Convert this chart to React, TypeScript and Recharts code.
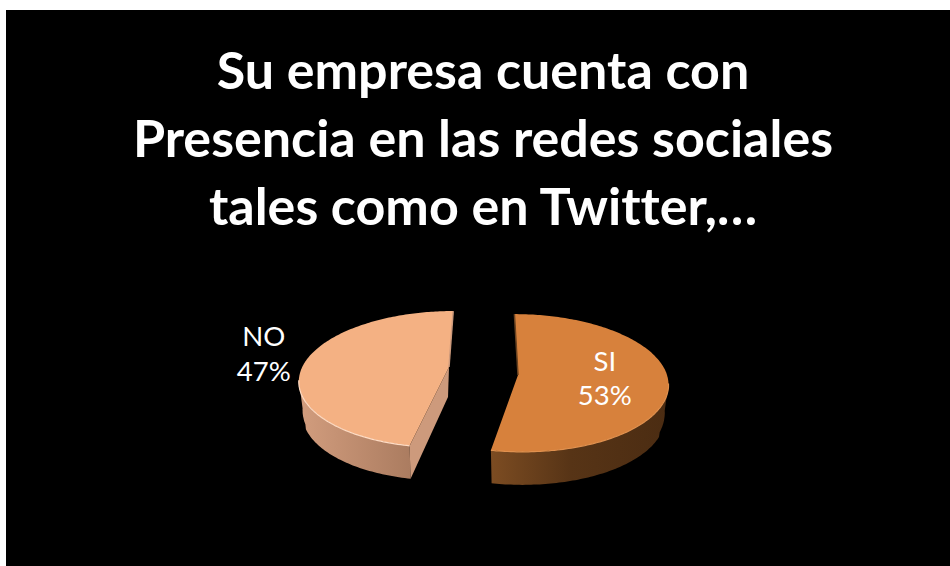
import { PieChart, Pie, Cell } from 'recharts';

const sliceNames = ['SI', 'NO'];
const sliceValues = [53, 47];
const titleLines = [
  'Su empresa cuenta con',
  'Presencia en las redes sociales',
  'tales como en Twitter,…',
];

const CHART_W = 944;
const CHART_H = 556;

// look of each slice: top colour, side wall, and how the fake 3D is bent
const SLICE_STYLE: Record<string, any> = {
  SI: {
    fill: '#d7813c',
    rim: '#e0914f',
    wall: 'wallSi',
    cutWall: '#6b4320',
    dx: 34,
    dy: 4,
    scale: 1,
    squash: 0.456,
    persp: 0.116,
    shear: -4,
    labelR: 0.58,
    labelDy: 0,
  },
  NO: {
    fill: '#f4b183',
    rim: '#ffdcc4',
    wall: 'wallNo',
    cutWall: '#cd9a7c',
    dx: -35,
    dy: -4,
    scale: 0.985,
    squash: 0.443,
    persp: 0.18,
    shear: 5,
    labelR: 1.3,
    labelDy: -5,
  },
};

const DEPTH = 33;
const RAD = Math.PI / 180;

function project(s: any, cx: number, cy: number, r: number, deg: number, f = 1) {
  const u = Math.cos(deg * RAD) * f;
  const v = Math.sin(deg * RAD) * f;
  const w = 1 + s.persp * v;
  return {
    x: cx + s.dx + (r * s.scale * u + s.shear * v) / w,
    y: cy + s.dy - (r * s.squash * v) / w,
    v,
  };
}

function toPath(pts: { x: number; y: number }[]) {
  return pts.map((p, i) => `${i ? 'L' : 'M'}${p.x.toFixed(1)},${p.y.toFixed(1)}`).join(' ');
}

// recharts gives the angles, this draws them as a tilted slice with a side wall
function TiltedSlice(props: any) {
  const { cx, cy, outerRadius, startAngle, endAngle, name } = props;
  const s = SLICE_STYLE[name];
  const apex = project(s, cx, cy, outerRadius, 0, 0);
  const rim: any[] = [];
  const step = startAngle > endAngle ? -1 : 1;
  for (let a = startAngle; step < 0 ? a > endAngle : a < endAngle; a += step) {
    rim.push(project(s, cx, cy, outerRadius, a));
  }
  rim.push(project(s, cx, cy, outerRadius, endAngle));

  // front part of the rim only, the back is hidden by the top face
  const front = rim.filter((p) => p.v < -s.persp);
  const lower = front
    .map((p) => ({ x: apex.x + (p.x - apex.x) * 0.975, y: p.y + DEPTH - (p.v > -0.4 ? 6 * (1 + p.v) : 0) }))
    .reverse();
  const a = rim[0];
  const b = rim[rim.length - 1];
  const near = a.v < b.v ? a : b;
  const far = a.v < b.v ? b : a;

  return (
    <g>
      <path d={toPath([...front, ...lower]) + ' Z'} fill={`url(#${s.wall})`} />
      {name === 'NO' && (
        <path
          d={
            toPath([apex, near, { x: near.x + 1, y: near.y + DEPTH }, { x: apex.x - 1, y: apex.y + 30 }]) + ' Z'
          }
          fill={s.cutWall}
        />
      )}
      <path d={toPath([apex, ...rim]) + ' Z'} fill={s.fill} />
      <path d={toPath(front)} fill="none" stroke={s.rim} strokeWidth={1.2} />
      <path d={toPath([apex, far])} fill="none" stroke={s.cutWall} strokeWidth={1.5} />
    </g>
  );
}

function SliceLabel(props: any) {
  const { cx, cy, outerRadius, midAngle, name, percent } = props;
  const s = SLICE_STYLE[name];
  const p = project(s, cx, cy, outerRadius, midAngle, s.labelR);
  return (
    <text x={p.x} textAnchor="middle" fill="#ffffff" fontFamily="Lato" fontSize={27.5}>
      <tspan x={p.x} y={p.y - 8 + s.labelDy}>
        {name}
      </tspan>
      <tspan x={p.x} y={p.y + 26.5 + s.labelDy}>
        {Math.round(percent * 100)}%
      </tspan>
    </text>
  );
}

const data = sliceNames.map((name, i) => ({ name, value: sliceValues[i] }));

export default function App() {
  return (
    <div
      style={{
        position: 'absolute',
        left: 6,
        top: 10,
        width: CHART_W,
        height: CHART_H,
        background: '#000000',
      }}
    >
      <PieChart width={CHART_W} height={CHART_H} margin={{ top: 0, right: 0, bottom: 0, left: 0 }}>
        <defs>
          <linearGradient id="wallSi" x1="0" y1="0" x2="1" y2="0">
            <stop offset="0" stopColor="#7c4c22" />
            <stop offset="0.45" stopColor="#573416" />
            <stop offset="1" stopColor="#4b2c12" />
          </linearGradient>
          <linearGradient id="wallNo" x1="0" y1="0" x2="1" y2="0">
            <stop offset="0" stopColor="#d29d7e" />
            <stop offset="1" stopColor="#ab7c60" />
          </linearGradient>
        </defs>
        {titleLines.map((line, i) => (
          <text
            key={line}
            x={477}
            y={79 + i * 68}
            textAnchor="middle"
            fill="#ffffff"
            fontFamily="Lato"
            fontWeight={700}
            fontSize={52}
            style={{ fontVariantLigatures: 'none' }}
          >
            {line}
          </text>
        ))}
        <Pie
          data={data}
          dataKey="value"
          nameKey="name"
          cx={478}
          cy={361}
          innerRadius={0}
          outerRadius={149}
          startAngle={90}
          endAngle={-270}
          stroke="none"
          isAnimationActive={false}
          shape={TiltedSlice}
          activeShape={TiltedSlice}
          inactiveShape={TiltedSlice}
          label={SliceLabel}
          labelLine={false}
        >
          {data.map((d) => (
            <Cell key={d.name} fill={SLICE_STYLE[d.name].fill} />
          ))}
        </Pie>
      </PieChart>
    </div>
  );
}
